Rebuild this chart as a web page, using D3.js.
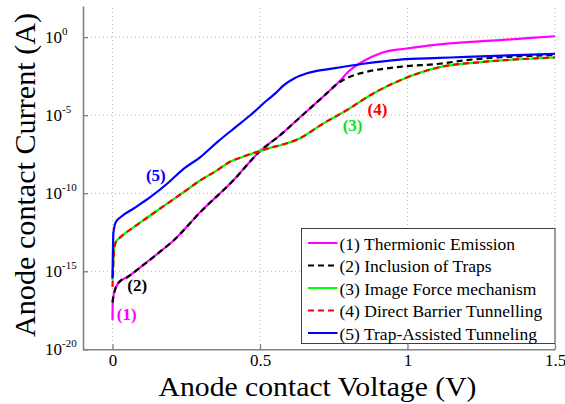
<!DOCTYPE html>
<html>
<head>
<meta charset="utf-8">
<script src="https://cdn.jsdelivr.net/npm/d3@7/dist/d3.min.js"></script>
<style>
  body { margin: 0; background: #fff; }
  text { font-family: "Liberation Serif", "Times New Roman", serif; }
</style>
</head>
<body>
<div id="chart"></div>
<script>
var svgWidth = 565;
var svgHeight = 404;

// plot area in pixels
var margin = { top: 6, right: 10, bottom: 54.7, left: 83 };
var width = svgWidth - margin.left - margin.right;
var height = svgHeight - margin.top - margin.bottom;

// ---- data ----
var xTicks = [0, 0.5, 1, 1.5];
var yTickExps = [0, -5, -10, -15, -20];

var vThermionic = [0, 0.001, 0.005, 0.022, 0.051, 0.096, 0.152, 0.208, 0.297, 0.41, 0.5, 0.568, 0.636, 0.726, 0.76, 0.805, 0.85, 0.906, 0.997, 1.109, 1.312, 1.5];
var iThermionic = [7.2e-19, 1.4e-17, 3.7e-17, 2.0e-16, 4.3e-16, 1.9e-15, 1.3e-14, 9.8e-14, 6.0e-12, 6.8e-10, 5.0e-8, 5.2e-7, 7.4e-6, 2.5e-4, 9.8e-4, 7.6e-3, 2.9e-2, 9.1e-2, 0.19, 0.35, 0.65, 1.15];

var vTraps = [0, 0.005, 0.022, 0.051, 0.096, 0.152, 0.208, 0.297, 0.41, 0.5, 0.568, 0.636, 0.726, 0.76, 0.805, 0.861, 0.974, 1.109, 1.2, 1.5];
var iTraps = [1.0e-17, 3.7e-17, 2.0e-16, 4.3e-16, 1.9e-15, 1.3e-14, 9.8e-14, 6.0e-12, 6.8e-10, 5.0e-8, 5.2e-7, 7.4e-6, 2.5e-4, 9.8e-4, 2.9e-3, 6.0e-3, 1.26e-2, 2.0e-2, 3.4e-2, 7.1e-2];

var vImage = [0, 0.005, 0.011, 0.028, 0.073, 0.129, 0.186, 0.242, 0.298, 0.355, 0.4, 0.433, 0.501, 0.546, 0.569, 0.636, 0.715, 0.794, 0.884, 0.974, 1.109, 1.255, 1.5];
var iImage = [2.6e-16, 1.7e-14, 7.2e-14, 1.6e-13, 6.9e-13, 3.9e-12, 2.2e-11, 1.2e-10, 6.8e-10, 3.0e-9, 1.1e-8, 1.9e-8, 5.2e-8, 9.3e-8, 1.2e-7, 3.4e-7, 3.0e-6, 2.1e-5, 2.5e-4, 1.7e-3, 1.2e-2, 2.6e-2, 5.0e-2];

var vDirect = vImage;
var iDirect = [1.0e-16, 1.7e-14, 7.2e-14, 1.6e-13, 6.9e-13, 3.9e-12, 2.2e-11, 1.2e-10, 6.8e-10, 3.0e-9, 1.1e-8, 1.9e-8, 5.2e-8, 9.3e-8, 1.2e-7, 3.4e-7, 3.0e-6, 2.1e-5, 2.5e-4, 1.7e-3, 1.2e-2, 2.6e-2, 5.0e-2];

var vTat = [0, 0.003, 0.011, 0.028, 0.073, 0.129, 0.186, 0.242, 0.298, 0.355, 0.411, 0.467, 0.524, 0.552, 0.58, 0.614, 0.659, 0.749, 0.85, 0.974, 1.109, 1.2, 1.5];
var iTat = [3.5e-16, 2.8e-13, 1.4e-12, 3.0e-12, 1.1e-11, 5.8e-11, 4.2e-10, 3.8e-9, 2.1e-8, 1.9e-7, 1.4e-6, 1.0e-5, 9.1e-5, 2.5e-4, 8.3e-4, 2.2e-3, 4.9e-3, 1.0e-2, 2.0e-2, 3.7e-2, 4.7e-2, 5.5e-2, 8.7e-2];

var seriesNames = ["(1) Thermionic Emission", "(2) Inclusion of Traps", "(3) Image Force mechanism", "(4) Direct Barrier Tunnelling", "(5) Trap-Assisted Tunneling"];
var seriesColors = ["#ff00ff", "#000000", "#00ff00", "#ff0000", "#0000ff"];
var seriesDash = [null, "6,4", null, "6,4", null];
var seriesV = [vThermionic, vTraps, vImage, vDirect, vTat];
var seriesI = [iThermionic, iTraps, iImage, iDirect, iTat];

// curve labels (voltage, current)
var labelText = ["(1)", "(2)", "(3)", "(4)", "(5)"];
var labelColors = ["#ff00ff", "#000000", "#11dd11", "#ff0000", "#0000ff"];
var labelV = [0.048, 0.084, 0.814, 0.898, 0.147];
var labelI = [1.6e-18, 1.3e-16, 2.3e-6, 2.4e-5, 1.3e-9];

// ---- svg ----
var svg = d3.select("#chart")
  .append("svg")
  .attr("width", svgWidth)
  .attr("height", svgHeight);

var chartGroup = svg.append("g")
  .attr("transform", `translate(${margin.left}, ${margin.top})`);

var xScale = d3.scaleLinear().domain([-0.1, 1.5]).range([0, width]);
var yScale = d3.scaleLog().domain([1e-20, 1e2]).range([height, 0]);

// grid
var gridColor = "#b4b4b4";
chartGroup.selectAll(".xgrid")
  .data(xTicks)
  .enter()
  .append("line")
  .attr("x1", d => xScale(d))
  .attr("x2", d => xScale(d))
  .attr("y1", 2)
  .attr("y2", height)
  .attr("stroke", gridColor)
  .attr("stroke-dasharray", "1,3");

chartGroup.selectAll(".ygrid")
  .data(yTickExps.slice(0, 4))
  .enter()
  .append("line")
  .attr("x1", 0)
  .attr("x2", width)
  .attr("y1", d => yScale(Math.pow(10, d)))
  .attr("y2", d => yScale(Math.pow(10, d)))
  .attr("stroke", gridColor)
  .attr("stroke-dasharray", "1,3");

// axes
var axisColor = "#808080";
var bottomAxis = d3.axisBottom(xScale)
  .tickValues(xTicks)
  .tickSizeInner(-5)
  .tickSizeOuter(0)
  .tickPadding(5)
  .tickFormat(d3.format("~g"));

var xAxisG = chartGroup.append("g")
  .attr("transform", `translate(0, ${height})`)
  .call(bottomAxis);

var leftAxis = d3.axisLeft(yScale)
  .tickValues(yTickExps.map(e => Math.pow(10, e)))
  .tickSizeInner(-5)
  .tickSizeOuter(0)
  .tickFormat("");

var yAxisG = chartGroup.append("g").call(leftAxis);

[xAxisG, yAxisG].forEach(function(g) {
  g.select(".domain").attr("stroke", axisColor).attr("stroke-width", 1.6);
  g.selectAll(".tick line").attr("stroke", axisColor).attr("stroke-width", 1.3);
});
xAxisG.selectAll(".tick text")
  .attr("fill", "#000")
  .style("font-size", "17px");

// y tick labels 10^n
var yLabels = chartGroup.selectAll(".ylab")
  .data(yTickExps)
  .enter()
  .append("text")
  .attr("x", 45 - margin.left)
  .attr("y", d => yScale(Math.pow(10, d)) + 6)
  .style("font-size", "17px");
yLabels.append("tspan").text("10");
yLabels.append("tspan")
  .attr("dy", -8)
  .style("font-size", "11px")
  .text(d => d === 0 ? "0" : "-" + Math.abs(d));

// curves
var line = d3.line()
  .x(d => xScale(d[0]))
  .y(d => yScale(d[1]))
  .curve(d3.curveMonotoneX);

seriesNames.forEach(function(name, k) {
  var pts = seriesV[k].map((v, j) => [v, seriesI[k][j]]);
  chartGroup.append("path")
    .datum(pts)
    .attr("d", line)
    .attr("fill", "none")
    .attr("stroke", seriesColors[k])
    .attr("stroke-width", 2.2)
    .attr("stroke-dasharray", seriesDash[k]);
});

// curve labels
chartGroup.selectAll(".clab")
  .data(labelText)
  .enter()
  .append("text")
  .attr("x", (d, k) => xScale(labelV[k]))
  .attr("y", (d, k) => yScale(labelI[k]))
  .attr("text-anchor", "middle")
  .attr("dominant-baseline", "central")
  .attr("fill", (d, k) => labelColors[k])
  .style("font-size", "17px")
  .style("font-weight", "bold")
  .text(d => d);

// legend
var legend = svg.append("g").attr("transform", "translate(301.5, 228.5)");
legend.append("rect")
  .attr("width", 253.5)
  .attr("height", 115)
  .attr("fill", "#fff")
  .attr("stroke", "#404040")
  .attr("stroke-width", 1);

seriesNames.forEach(function(name, k) {
  var yy = 14.5 + k * 22.5;
  legend.append("line")
    .attr("x1", 6.5)
    .attr("x2", 36)
    .attr("y1", yy)
    .attr("y2", yy)
    .attr("stroke", seriesColors[k])
    .attr("stroke-width", 2)
    .attr("stroke-dasharray", seriesDash[k] ? "6,4" : null);
  legend.append("text")
    .attr("x", 38)
    .attr("y", yy + 6.5)
    .style("font-size", "17.5px")
    .text(name);
});

// axis titles
svg.append("text")
  .attr("x", 317.5)
  .attr("y", 396)
  .attr("text-anchor", "middle")
  .attr("textLength", 318)
  .attr("lengthAdjust", "spacingAndGlyphs")
  .style("font-size", "28px")
  .text("Anode contact Voltage (V)");

svg.append("text")
  .attr("transform", "translate(35, 175) rotate(-90)")
  .attr("text-anchor", "middle")
  .attr("textLength", 324)
  .attr("lengthAdjust", "spacingAndGlyphs")
  .style("font-size", "28.5px")
  .text("Anode contact Current (A)");
</script>
</body>
</html>
